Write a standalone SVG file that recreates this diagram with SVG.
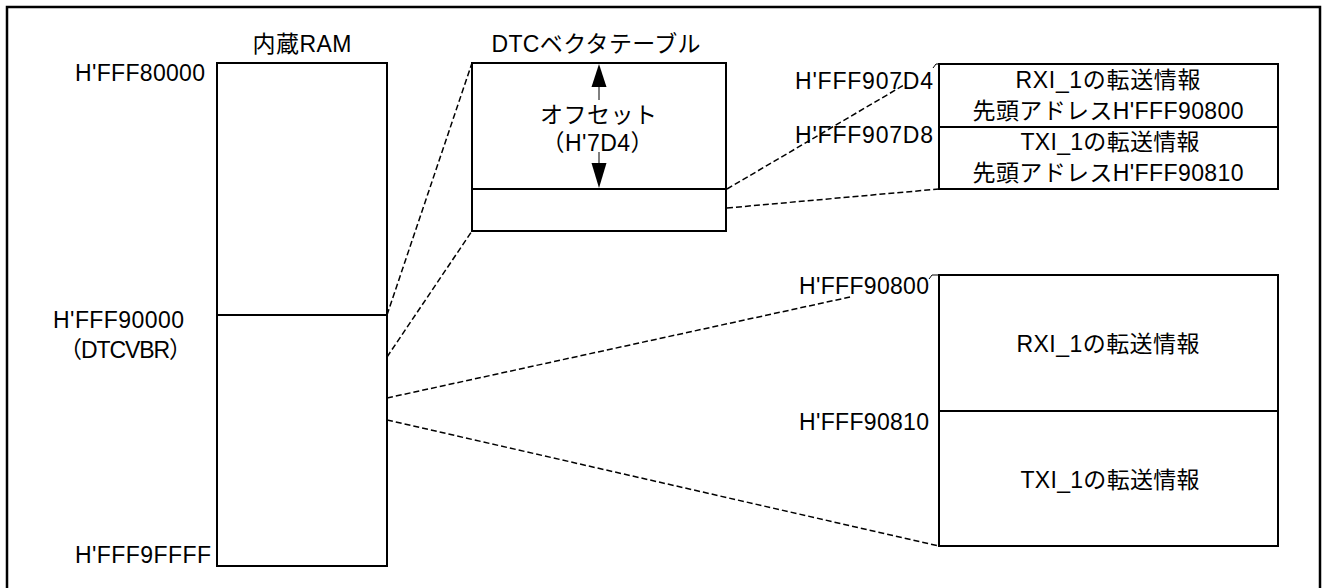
<svg xmlns="http://www.w3.org/2000/svg" width="1325" height="588" viewBox="0 0 1325 588">
<style>
text{font-family:"Liberation Sans","Noto Sans CJK JP",Arial,sans-serif;font-size:23px;fill:#000}
.box{fill:#fff;stroke:#000;stroke-width:2}
.div{stroke:#000;stroke-width:2;fill:none}
.dash{stroke:#000;stroke-width:1.5;stroke-dasharray:6 3;fill:none}
.thin{stroke:#000;stroke-width:1;fill:none}
.m{text-anchor:middle}
.e{text-anchor:end}
</style>
<rect x="0" y="0" width="1325" height="588" fill="#fff"/>
<rect id="frame" x="7" y="7" width="1313" height="585" fill="none" stroke="#000" stroke-width="2.5"/>
<g id="connectors">
<line class="dash" x1="387" y1="315" x2="472" y2="63"/>
<line class="dash" x1="387" y1="357" x2="472" y2="231"/>
<line class="dash" x1="727" y1="189" x2="904" y2="85"/>
<line class="dash" x1="727" y1="208" x2="939" y2="189"/>
<line class="dash" x1="387" y1="398" x2="850" y2="297"/>
<line class="dash" x1="387" y1="420" x2="939" y2="546"/>
<polyline class="thin" points="933,68 936,64 939,64"/>
<polyline class="thin" points="929,279 932,275 939,275"/>
</g>
<g id="ram">
<text class="m" x="302" y="52" textLength="99">内蔵RAM</text>
<rect class="box" x="217" y="63" width="170" height="503"/>
<line class="div" x1="217" y1="315" x2="387" y2="315"/>
<text class="e" x="205" y="81" textLength="130">H'FFF80000</text>
<text class="e" x="184" y="328" textLength="131">H'FFF90000</text>
<text class="e" x="192" y="358" textLength="133">（DTCVBR）</text>
<text class="e" x="211" y="563" textLength="136">H'FFF9FFFF</text>
</g>
<g id="dtc-table">
<text class="m" x="596" y="52" textLength="209">DTCベクタテーブル</text>
<rect class="box" x="472" y="63" width="254" height="168"/>
<line class="div" x1="472" y1="189" x2="726" y2="189"/>
<line class="thin" x1="599" y1="86" x2="599" y2="100"/>
<line class="thin" x1="599" y1="152" x2="599" y2="164"/>
<polygon points="599,64 591.5,87 606.5,87" fill="#000"/>
<polygon points="599,188 591.5,163 606.5,163" fill="#000"/>
<text class="m" x="598.5" y="123" textLength="117">オフセット</text>
<text class="m" x="597.5" y="151" textLength="112">（H'7D4）</text>
</g>
<g id="vector-entries">
<rect class="box" x="939" y="64" width="339" height="125"/>
<line class="div" x1="939" y1="127" x2="1278" y2="127"/>
<text class="m" x="1108" y="88" textLength="185">RXI_1の転送情報</text>
<text class="m" x="1108" y="119" textLength="271">先頭アドレスH'FFF90800</text>
<text class="m" x="1110" y="150" textLength="179">TXI_1の転送情報</text>
<text class="m" x="1108" y="181" textLength="271">先頭アドレスH'FFF90810</text>
<text class="e" x="933" y="89" textLength="138">H'FFF907D4</text>
<text class="e" x="933" y="143" textLength="138">H'FFF907D8</text>
</g>
<g id="transfer-info">
<rect class="box" x="939" y="275" width="339" height="271"/>
<line class="div" x1="939" y1="411" x2="1278" y2="411"/>
<text class="m" x="1108" y="352" textLength="183">RXI_1の転送情報</text>
<text class="m" x="1110" y="488" textLength="179">TXI_1の転送情報</text>
<text class="e" x="929" y="294" textLength="130">H'FFF90800</text>
<text class="e" x="929" y="430" textLength="130">H'FFF90810</text>
</g>
</svg>
